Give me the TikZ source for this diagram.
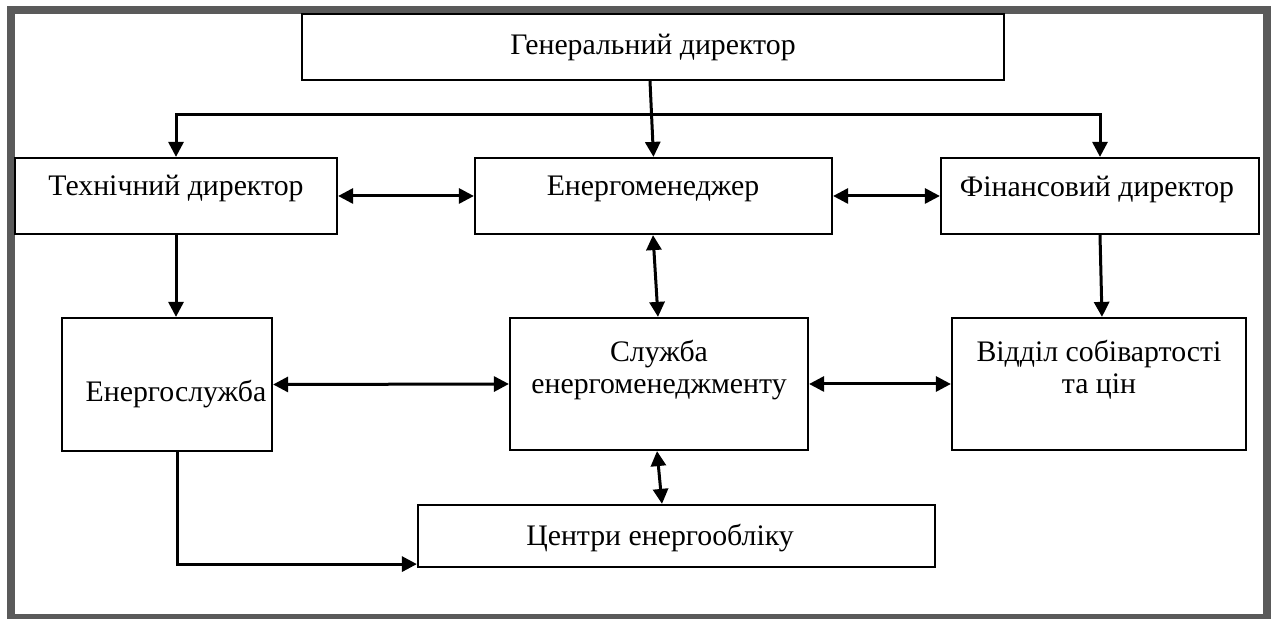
\documentclass[tikz,border=0pt]{standalone}
\usepackage{fontspec}
\setmainfont{Liberation Serif}
\usetikzlibrary{arrows.meta,calc,fit}
\definecolor{framegray}{RGB}{90,90,90}
\begin{document}
\begin{tikzpicture}[x=0.5pt,y=-0.5pt,
  box/.style={draw=black,line width=1.1pt,inner sep=0pt},
  txt/.style={font=\fontsize{14.9}{16}\selectfont,inner sep=0pt},
  tipA/.tip={Triangle[length=7.5pt,width=7.5pt]},
  arr/.style={line width=1.5pt,-tipA},
  dbl/.style={line width=1.5pt,tipA-tipA}]
\useasboundingbox (0,0) rectangle (1271,619);
% outer frame
\fill[framegray] (7,6) rectangle (1271,619);
\fill[white] (15,14) rectangle (1263,614);

% boxes
\node[box,fit={(302,14) (1004,80)}] (gen) {};
\node[box,fit={(15,158) (337,234)}] (tech) {};
\node[box,fit={(475,158) (832,234)}] (em) {};
\node[box,fit={(941,158) (1259,234)}] (fin) {};
\node[box,fit={(62,318) (272,451)}] (enr) {};
\node[box,fit={(510,318) (808,450)}] (sl) {};
\node[box,fit={(952,318) (1246,450)}] (vid) {};
\node[box,fit={(418,505) (935,567)}] (cen) {};

% labels
\node[txt,anchor=base] (gen-t) at (653,55) {Генеральний директор};
\node[txt,anchor=base] (tech-t) at (176,196) {Технічний директор};
\node[txt,anchor=base] (em-t) at (653,196) {Енергоменеджер};
\node[txt,anchor=base] (fin-t) at (1097,197) {Фінансовий директор};
\node[txt,anchor=base] (enr-t) at (176,402) {Енергослужба};
\node[txt,align=center,anchor=north] (sl-t) at (659,340) {Служба\\енергоменеджменту};
\node[txt,align=center,anchor=north] (vid-t) at (1099,340) {Відділ собівартості\\та цін};
\node[txt,anchor=base] (cen-t) at (660,546) {Центри енергообліку};

% connectors
\coordinate (bus) at (651.5,115);
\draw[arr] ($(gen.south)+(-3,0)$) -- (em.north);
\draw[arr] (bus) -| (tech.north);
\draw[arr] (bus) -| (fin.north);
\draw[dbl] (tech.east) -- (em.west);
\draw[dbl] (em.east) -- (fin.west);
\draw[arr] (tech.south) -- (tech.south |- enr.north);
\draw[dbl] ($(em.south)+(-0.5,0)$) -- ($(sl.north)+(-1,0)$);
\draw[arr] (fin.south) -- ($(vid.north)+(3,0)$);
\draw[dbl] (enr.east) -- (sl.west);
\draw[dbl] (sl.east) -- (vid.west);
\draw[dbl] ($(sl.south)+(-2,0)$) -- ($(cen.north)+(-14.5,0)$);
\draw[arr] ($(enr.south)+(10,0)$) |- ($(cen.south west)+(0,-4)$);
\end{tikzpicture}
\end{document}
